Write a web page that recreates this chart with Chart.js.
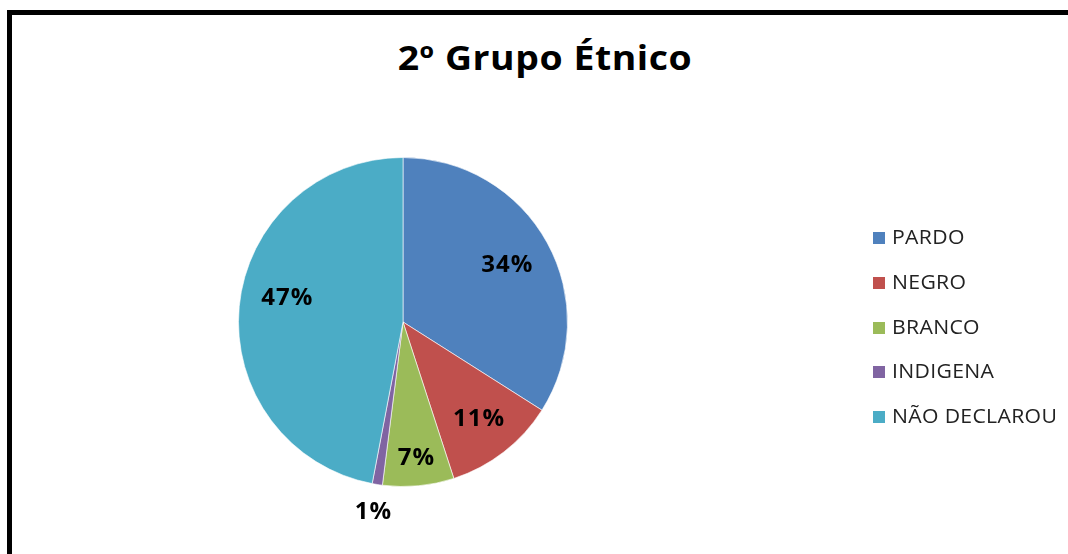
<!DOCTYPE html>
<html>
<head>
<meta charset="utf-8">
<script src="https://cdn.jsdelivr.net/npm/chart.js@4/dist/chart.umd.min.js"></script>
<style>
  html,body{margin:0;padding:0;background:#fff;width:1068px;height:554px;overflow:hidden;}
  #frame{position:absolute;left:7px;top:10px;width:1100px;height:600px;border:5px solid #000;box-sizing:border-box;}
  #title{position:absolute;left:545px;top:34px;font:bold 34px "Open Sans",sans-serif;color:#000;letter-spacing:0.5px;white-space:nowrap;transform:translateX(-50%) scaleX(1.1);transform-origin:center;}
  #wrap{position:absolute;left:0;top:0;width:1068px;height:554px;}
  #legend{position:absolute;left:873px;top:223px;font:20px "Open Sans",sans-serif;color:#222;letter-spacing:0.3px;white-space:nowrap;}
  #legend div{height:44.8px;display:flex;align-items:flex-start;}
  #legend span.sw{display:inline-block;width:12px;height:12px;margin-right:7px;margin-top:9px;flex:none;}
  #legend span.tx{display:inline-block;transform:scaleX(1.06);transform-origin:left;}
</style>
</head>
<body>
<div id="frame"></div>
<div id="title">2º Grupo Étnico</div>
<div id="wrap"><canvas id="c" width="1068" height="554"></canvas></div>
<div id="legend"></div>
<script>
const categories = ["PARDO", "NEGRO", "BRANCO", "INDIGENA", "NÃO DECLAROU"];
const values = [34, 11, 7, 1, 47];
const valueLabels = ["34%", "11%", "7%", "1%", "47%"];

const colors = ["#4F81BD", "#C0504D", "#9BBB59", "#8064A2", "#4BACC6"];
const labelRadiusFactor = [0.72, 0.75, 0.83, 1.17, 0.72];
const labelAngleOffsetDeg = [0, 0, 0, 0, 6];

const labelPlugin = {
  id: 'sliceLabels',
  afterDatasetsDraw(chart) {
    const ctx = chart.ctx;
    const meta = chart.getDatasetMeta(0);
    ctx.save();
    ctx.font = 'bold 24px "Open Sans", sans-serif';
    if ('letterSpacing' in ctx) ctx.letterSpacing = '1px';
    ctx.fillStyle = '#000';
    ctx.textAlign = 'center';
    ctx.textBaseline = 'middle';
    meta.data.forEach((arc, i) => {
      const p = arc.getProps(['x','y','startAngle','endAngle','outerRadius'], true);
      const mid = (p.startAngle + p.endAngle) / 2 + labelAngleOffsetDeg[i] * Math.PI / 180;
      const r = p.outerRadius * labelRadiusFactor[i];
      ctx.fillText(valueLabels[i], p.x + Math.cos(mid) * r + 0.5, p.y + Math.sin(mid) * r);
    });
    ctx.restore();
  }
};

new Chart(document.getElementById('c'), {
  type: 'pie',
  data: {
    labels: categories,
    datasets: [{
      data: values,
      backgroundColor: colors,
      borderColor: 'rgba(255,255,255,0.6)',
      borderWidth: 1
    }]
  },
  options: {
    responsive: false,
    animation: false,
    layout: { padding: { left: 238, right: 500, top: 157, bottom: 67 } },
    plugins: {
      legend: { display: false },
      tooltip: { enabled: false },
      title: { display: false }
    }
  },
  plugins: [labelPlugin]
});

const leg = document.getElementById('legend');
categories.forEach((c, i) => {
  const d = document.createElement('div');
  const s = document.createElement('span');
  s.className = 'sw';
  s.style.background = colors[i];
  const t = document.createElement('span');
  t.className = 'tx';
  t.textContent = c;
  d.appendChild(s);
  d.appendChild(t);
  leg.appendChild(d);
});
</script>
</body>
</html>
